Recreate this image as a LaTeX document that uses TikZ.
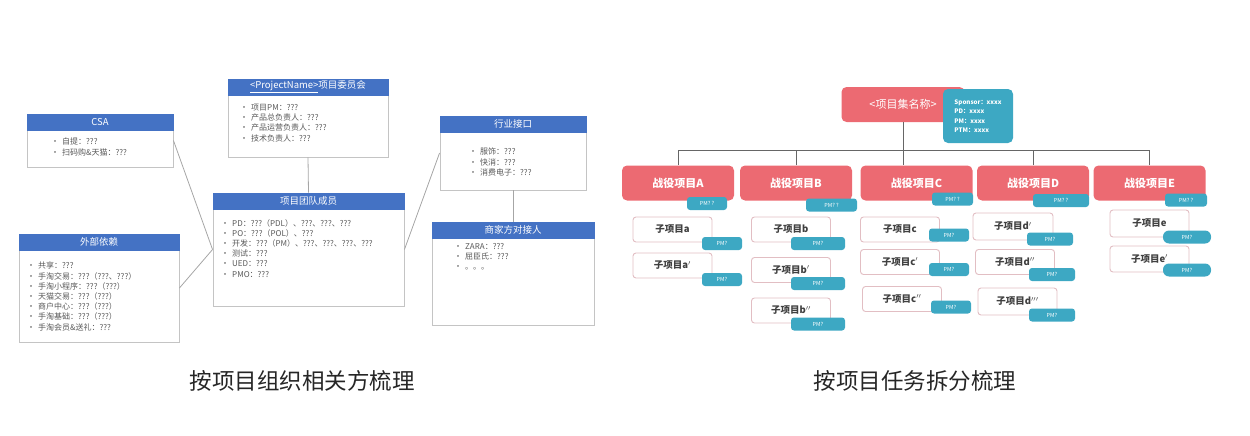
\documentclass[tikz,border=0pt]{standalone}
\usepackage{fontspec}
\setmainfont{Noto Sans CJK SC}
\usepackage{tikz}
\usetikzlibrary{positioning}
\definecolor{OrgBlue}{HTML}{4472C4}
\definecolor{OrgEdge}{HTML}{C4C4C4}
\definecolor{OrgText}{HTML}{595959}
\definecolor{OrgLine}{HTML}{A6A6A6}
\definecolor{TaskRed}{HTML}{EC6A72}
\definecolor{TaskTeal}{HTML}{3DA8C3}
\definecolor{TaskEdge}{HTML}{E2BEC3}
\definecolor{TaskInk}{HTML}{404040}
\definecolor{TitleInk}{HTML}{262626}
\newcommand{\itm}{\textbullet\hspace{3pt}}

\begin{document}
\begin{tikzpicture}[x=1pt,y=-1pt,
  orgbox/.style={draw=OrgEdge,fill=white,line width=0.9pt,inner sep=0pt},
  orghead/.style={draw=OrgBlue,fill=OrgBlue,text=white,minimum height=16pt,inner sep=0pt,anchor=north,font=\fontsize{9.5}{10}\selectfont},
  orglist/.style={anchor=north west,align=left,inner sep=0pt,text=OrgText,font=\fontsize{8}{10.2}\selectfont},
  orglink/.style={draw=OrgLine,line width=0.8pt},
  titletext/.style={text=TitleInk,font=\fontsize{22.5}{24}\selectfont},
  topbox/.style={fill=TaskRed,rounded corners=5pt,text=white,minimum width=123pt,minimum height=35pt,inner sep=0pt,font=\fontsize{11}{12}\selectfont},
  infobox/.style={fill=TaskTeal,rounded corners=5pt,text=white,align=left,minimum width=70pt,minimum height=54pt,inner sep=0pt,font=\fontsize{6.2}{9.5}\selectfont\bfseries},
  campbox/.style={fill=TaskRed,rounded corners=5pt,text=white,minimum width=112pt,minimum height=35pt,inner sep=0pt,font=\fontsize{11}{12}\selectfont\bfseries},
  subbox/.style={draw=TaskEdge,fill=white,line width=0.9pt,rounded corners=3pt,text=TaskInk,minimum width=79pt,minimum height=25pt,inner sep=0pt,font=\fontsize{9.5}{10}\selectfont\bfseries},
  pmtag/.style={fill=TaskTeal,rounded corners=3pt,text=white,minimum height=13pt,inner sep=0pt,font=\fontsize{5.5}{6}\selectfont},
  treelink/.style={draw=TaskInk!80,line width=0.8pt}]
\useasboundingbox (0,0) rectangle (1250,436);

% left: stakeholders per project
\node[orgbox,minimum width=146pt,minimum height=53pt] (csa) at (100,140.5) {};
\node[orghead,minimum width=146pt] (csaHead) at (csa.north) {CSA};
\node[orglist] (csaList) at (51,138) {\itm 自提：???\\ \itm 扫码购\&天猫：???};

\node[orgbox,minimum width=160pt,minimum height=108pt] (ext) at (99,288) {};
\node[orghead,minimum width=160pt] (extHead) at (ext.north) {外部依赖};
\node[orglist] (extList) at (27,262) {\itm 共享：???\\ \itm 手淘交易：???（???、???）\\ \itm 手淘小程序：???（???）\\ \itm 天猫交易：???（???）\\ \itm 商户中心：???（???）\\ \itm 手淘基础：???（???）\\ \itm 手淘会员\&送礼：???};

\node[orgbox,minimum width=160pt,minimum height=78pt] (proj) at (308,118) {};
\node[orghead,minimum width=160pt] (projHead) at (proj.north) {\underline{<ProjectName>}项目委员会};
\node[orglist] (projList) at (240,104) {\itm 项目PM：???\\ \itm 产品总负责人：???\\ \itm 产品运营负责人：???\\ \itm 技术负责人：???};

\node[orgbox,minimum width=191pt,minimum height=113pt] (team) at (308.5,249.5) {};
\node[orghead,minimum width=191pt] (teamHead) at (team.north) {项目团队成员};
\node[orglist] (teamList) at (221,219) {\itm PD：???（PDL）、???、???、???\\ \itm PO：???（POL）、???\\ \itm 开发：???（PM）、???、???、???、???\\ \itm 测试：???\\ \itm UED：???\\ \itm PMO：???};

\node[orgbox,minimum width=146pt,minimum height=74pt] (ind) at (513,153) {};
\node[orghead,minimum width=146pt] (indHead) at (ind.north) {行业接口};
\node[orglist] (indList) at (469,148) {\itm 服饰：???\\ \itm 快消：???\\ \itm 消费电子：???};

\node[orgbox,minimum width=162pt,minimum height=103pt] (merch) at (513,273.5) {};
\node[orghead,minimum width=162pt] (merchHead) at (merch.north) {商家方对接人};
\node[orglist] (merchList) at (454,243) {\itm ZARA：???\\ \itm 屈臣氏：???\\ \itm 。。。};

\draw[orglink] (csa.east) -- (team.west);
\draw[orglink] (ext.east) -- (team.west);
\draw[orglink] (proj.south) -- (team.north);
\draw[orglink] (ind.west) -- (team.east);
\draw[orglink] (ind.south) -- (merch.north);

\node[titletext] (leftTitle) at (302,381) {按项目组织相关方梳理};

% right: project breakdown
\node[topbox] (top) at (903,104.5) {<项目集名称>};

\node[campbox] (campA) at (678,183) {战役项目A};
\node[campbox] (campB) at (796,183) {战役项目B};
\node[campbox] (campC) at (916.5,183) {战役项目C};
\node[campbox] (campD) at (1033,183) {战役项目D};
\node[campbox] (campE) at (1149.5,183) {战役项目E};
\coordinate (bus) at (0,150);
\draw[treelink] (campA.north |- bus) -- (campE.north |- bus);
\draw[treelink] (top.south) -- (top.south |- campC.north);
\draw[treelink] (campA.north) -- (campA.north |- bus);
\draw[treelink] (campB.north) -- (campB.north |- bus);
\draw[treelink] (campD.north) -- (campD.north |- bus);
\draw[treelink] (campE.north) -- (campE.north |- bus);
\node[infobox] (info) at (978,116) {Sponsor：xxxx\\PD：xxxx\\PM：xxxx\\PTM：xxxx};

\node[pmtag,minimum width=40pt] (tagA) at (707,203.5) {PM? ?};
\node[pmtag,minimum width=51pt] (tagB) at (831.5,205) {PM? ?};
\node[pmtag,minimum width=41pt] (tagC) at (952.5,199) {PM? ?};
\node[pmtag,minimum width=56pt] (tagD) at (1061,200.5) {PM? ?};
\node[pmtag,minimum width=42pt] (tagE) at (1186,200) {PM? ?};

\node[subbox] (subA1) at (672.5,229.5) {子项目a}; \node[pmtag,minimum width=40pt] (pmA1) at (722,243.5) {PM?};
\node[subbox] (subA2) at (672.5,265.5) {子项目a$'$}; \node[pmtag,minimum width=40pt] (pmA2) at (722,279.5) {PM?};
\node[subbox] (subB1) at (791,229.5) {子项目b}; \node[pmtag,minimum width=54pt] (pmB1) at (818,243.5) {PM?};
\node[subbox] (subB2) at (791,270) {子项目b$'$}; \node[pmtag,minimum width=54pt] (pmB2) at (818,283.5) {PM?};
\node[subbox] (subB3) at (791,310.5) {子项目b$''$}; \node[pmtag,minimum width=54pt] (pmB3) at (818,324) {PM?};
\node[subbox] (subC1) at (900,229.5) {子项目c}; \node[pmtag,minimum width=40pt] (pmC1) at (949,235) {PM?};
\node[subbox] (subC2) at (900,262) {子项目c$'$}; \node[pmtag,minimum width=40pt] (pmC2) at (949,269.5) {PM?};
\node[subbox] (subC3) at (902,299) {子项目c$''$}; \node[pmtag,minimum width=40pt] (pmC3) at (951,307) {PM?};
\node[subbox,minimum width=80pt,minimum height=27pt] (subD1) at (1013,226.5) {子项目d$'$}; \node[pmtag,minimum width=46pt] (pmD1) at (1050,239) {PM?};
\node[subbox] (subD2) at (1015,262) {子项目d$''$}; \node[pmtag,minimum width=46pt] (pmD2) at (1052,274.5) {PM?};
\node[subbox,minimum height=27pt] (subD3) at (1017.5,301.5) {子项目d$'''$}; \node[pmtag,minimum width=46pt] (pmD3) at (1052,315) {PM?};
\node[subbox,minimum height=27pt] (subE1) at (1149.5,223.5) {子项目e}; \node[pmtag,minimum width=48pt,rounded corners=6pt] (pmE1) at (1187,237) {PM?};
\node[subbox,minimum height=26pt] (subE2) at (1149.5,259) {子项目e$'$}; \node[pmtag,minimum width=48pt,rounded corners=6pt] (pmE2) at (1187,270) {PM?};

\node[titletext] (rightTitle) at (915,381) {按项目任务拆分梳理};
\end{tikzpicture}
\end{document}
